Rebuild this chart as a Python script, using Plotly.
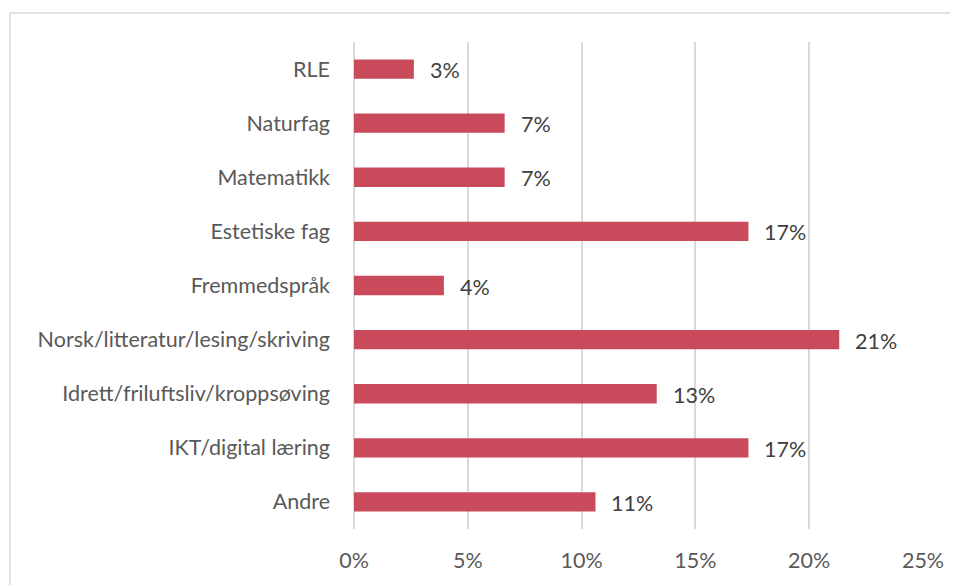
import plotly.graph_objects as go

categories = ["RLE", "Naturfag", "Matematikk", "Estetiske fag", "Fremmedspråk",
              "Norsk/litteratur/lesing/skriving", "Idrett/friluftsliv/kroppsøving",
              "IKT/digital læring", "Andre"]
values = [0.0263, 0.0662, 0.0662, 0.1733, 0.0395, 0.2132, 0.1330, 0.1733, 0.1061]
x_ticks = [0, 0.05, 0.10, 0.15, 0.20, 0.25]
x_tick_labels = ["0%", "5%", "10%", "15%", "20%", "25%"]

FONT = "Lato"
OFF = 8  # page body margin
fig = go.Figure()
fig.add_trace(go.Bar(
    x=values, y=categories, orientation="h",
    marker=dict(color="#C94A5A", line=dict(width=0)),
    hoverinfo="skip",
))

for c, v in zip(categories, values):
    fig.add_annotation(x=v, y=c, xref="x", yref="y", text=f"{round(v*100):.0f}%",
                       showarrow=False, xanchor="left", xshift=14, yshift=-1,
                       font=dict(family=FONT, size=21.5, color="#404040"))

W, H = 958 - OFF, 585 - OFF
L, R, T, B = 354 - OFF, 35, 42 - OFF, 56
pw, ph = W - L - R, H - T - B
fig.add_shape(type="rect", xref="paper", yref="paper",
              x0=(10 - OFF - L) / pw, x1=1 + (R + 20) / pw,
              y0=-(B + 20) / ph, y1=1 + (T - (13 - OFF)) / ph,
              line=dict(color="#D9D9D9", width=1.5), fillcolor="rgba(0,0,0,0)", layer="below")

fig.update_layout(
    width=W, height=H,
    margin=dict(l=L, r=R, t=T, b=B, pad=0, autoexpand=False),
    paper_bgcolor="white", plot_bgcolor="white",
    bargap=0.643, showlegend=False,
    font=dict(family=FONT, size=21.5, color="#595959"),
    xaxis=dict(range=[0, 0.25], tickvals=x_ticks, ticktext=x_tick_labels,
               showgrid=True, gridcolor="#D9D9D9", gridwidth=1.5,
               zeroline=True, zerolinecolor="#D9D9D9", zerolinewidth=1.5,
               showline=False, ticks="", ticklabelstandoff=16, fixedrange=True,
               automargin=False),
    yaxis=dict(autorange="reversed", showgrid=False, zeroline=False, showline=False,
               ticks="", ticklabelstandoff=23, fixedrange=True, automargin=False),
)
fig.write_html("out.html")
